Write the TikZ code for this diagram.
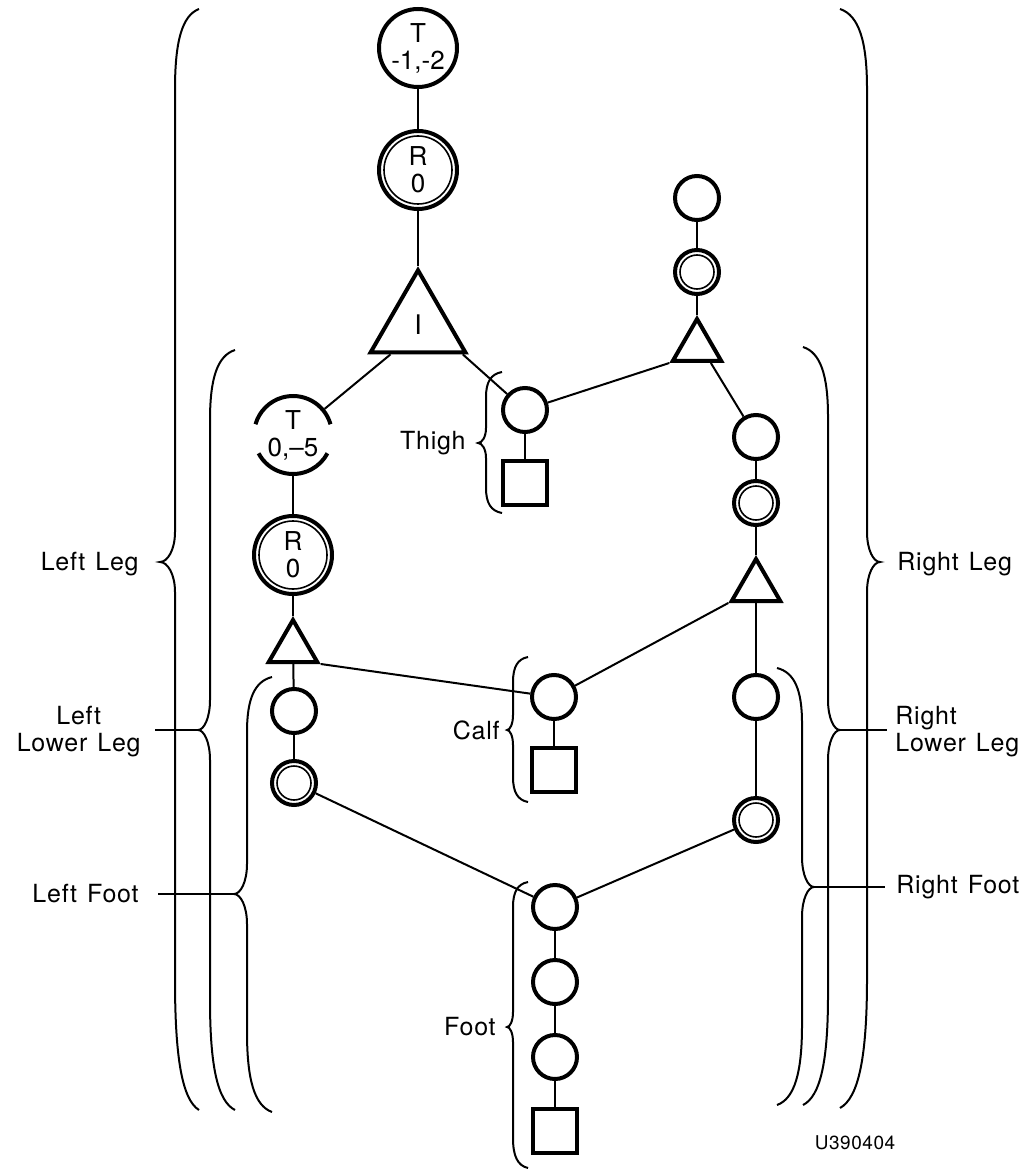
\documentclass[tikz,border=0pt]{standalone}
\usepackage{fontspec}
\setmainfont{TeX Gyre Heros}[LetterSpace=3,WordSpace=1.3]
\newfontfamily\circfont{TeX Gyre Heros}
\usetikzlibrary{shapes.geometric,calc}
% #1 x, #2 top, #3 bottom, #4 tip y, #5 end offset, #6 tip depth, #7 top curve length, #8 bottom curve length, #9 tip ramp
\newcommand{\mybrace}[9]{%
 \draw[brace] ({#1+(#5)},#2) .. controls ({#1+0.3*(#5)},{#2+0.08*(#7)}) and (#1,{#2+0.4*(#7)}) .. (#1,{#2+(#7)})
 -- (#1,{#4-(#9)}) .. controls (#1,{#4-0.4*(#9)}) and ({#1-0.5*(#6)},#4) .. ({#1-(#6)},#4)
 .. controls ({#1-0.5*(#6)},#4) and (#1,{#4+0.4*(#9)}) .. (#1,{#4+(#9)})
 -- (#1,{#3-(#8)}) .. controls (#1,{#3-0.4*(#8)}) and ({#1+0.3*(#5)},{#3-0.08*(#8)}) .. ({#1+(#5)},#3);}
\begin{document}
\begin{tikzpicture}[x=0.5pt,y=-0.5pt,
  shp/.style={draw,line width=2pt,inner sep=0pt},
  bigc/.style={shp,circle,minimum size=39pt,font=\circfont\fontsize{13}{13.5}\selectfont,align=center},
  smc/.style={shp,circle,minimum size=22pt},
  dsmc/.style={smc,path picture={\draw[line width=0.8pt] (path picture bounding box.center) circle (8.5pt);}},
  dbigc/.style={bigc,path picture={\draw[line width=0.8pt] (path picture bounding box.center) circle (17pt);}},
  sq/.style={shp,rectangle,minimum size=22pt},
  tri/.style={shp,regular polygon,regular polygon sides=3,font=\circfont\fontsize{13.5}{13.5}\selectfont},
  conn/.style={line width=1pt},
  brace/.style={line width=1pt},
  lbl/.style={inner sep=0pt,font=\fontsize{12.5}{13.5}\selectfont}
]
\fill[white] (0,0) rectangle (1030,1170);
\useasboundingbox (0,0) rectangle (1030,1170);

% main chain
\node[bigc] (T1) at (418,48) {T\\-1,-2};
\node[dbigc] (R1) at (418,170) {R\\0};
\node[tri,minimum size=54.7pt] (TI) at (418,325) {I};

% left leg chain
\node[bigc,draw=none] (T2) at (293,435) {T\\0,–5};
\draw[line width=2pt] ([shift={(16:19.5pt)}]T2.center) arc[start angle=16,end angle=164,radius=19.5pt];
\draw[line width=2pt] ([shift={(208:19.5pt)}]T2.center) arc[start angle=208,end angle=332,radius=19.5pt];
\node[dbigc] (R2) at (293,555) {R\\0};
\node[tri,minimum size=28pt] (LT) at (293,648) {};
\node[smc] (LC) at (294,711) {};
\node[dsmc] (LD) at (294,783) {};

% thigh
\node[smc] (TC) at (525,410) {};
\node[sq] (TS) at (525,483) {};
% calf
\node[smc] (CC) at (554,697) {};
\node[sq] (CS) at (554,770) {};
% foot
\node[smc] (F1) at (555,907) {};
\node[smc] (F2) at (555,982) {};
\node[smc] (F3) at (555,1057) {};
\node[sq] (FS) at (555,1131) {};

% right top
\node[smc] (RTC) at (697,198) {};
\node[dsmc] (RTD) at (697,272) {};
\node[tri,minimum size=28pt] (RTT) at (697,347) {};
% right leg chain
\node[smc] (RC1) at (756,437) {};
\node[dsmc] (RD1) at (756,503) {};
\node[tri,minimum size=28pt] (RT2) at (756,587) {};
\node[smc] (RC2) at (756,697) {};
\node[dsmc] (RD2) at (756,820) {};

% connectors
\draw[conn] (T1) -- (R1);
\draw[conn] (R1) -- (TI.corner 1);
\draw[conn] ($(TI.corner 2)!0.23!(TI.corner 3)$) -- (T2);
\draw[conn] ($(TI.corner 2)!0.94!(TI.corner 3)$) -- (TC);
\draw[conn] (TC) -- (TS);
\draw[conn] (TC) -- (RTT.corner 2);
\draw[conn] (RTC) -- (RTD);
\draw[conn] (RTD) -- (RTT.corner 1);
\draw[conn] ($(RTT.corner 2)!0.75!(RTT.corner 3)$) -- (RC1);
\draw[conn] (RC1) -- (RD1);
\draw[conn] (RD1) -- (RT2.corner 1);
\draw[conn] (RT2) -- (RC2);
\draw[conn] (RC2) -- (RD2);
\draw[conn] (RT2.corner 2) -- (CC);
\draw[conn] (CC) -- (CS);
\draw[conn] (T2) -- (R2);
\draw[conn] (R2) -- (LT.corner 1);
\draw[conn] (LT) -- (LC);
\draw[conn] (LC) -- (LD);
\draw[conn] (LT.corner 3) -- (CC);
\draw[conn] (LD) -- (F1);
\draw[conn] (RD2) -- (F1);
\draw[conn] (F1) -- (F2);
\draw[conn] (F2) -- (F3);
\draw[conn] (F3) -- (FS);

% braces left
\mybrace{175}{9}{1110}{562}{24}{15}{80}{130}{30}
\mybrace{210}{350}{1110}{730}{25}{12}{70}{110}{30}
\mybrace{247}{677}{1112}{894}{25}{13}{55}{80}{30}
% braces right
\mybrace{867}{9}{1108}{562}{-27}{-13}{80}{130}{30}
\mybrace{828}{347}{1105}{730}{-25}{-12}{70}{110}{30}
\mybrace{802}{668}{1105}{887}{-25}{-12}{55}{80}{30}
% small braces
\mybrace{486}{372}{513}{443}{16}{8}{25}{25}{15}
\mybrace{513}{657}{802}{730}{15}{6}{25}{25}{15}
\mybrace{513}{882}{1168}{1027}{15}{6}{25}{30}{15}

% label lines
\coordinate (tLL) at (198,730); \coordinate (eLL) at (155,730);
\coordinate (tLF) at (234,894); \coordinate (eLF) at (158,894);
\coordinate (tRL) at (840,730); \coordinate (eRL) at (887,730);
\coordinate (tRF) at (814,887); \coordinate (eRF) at (885,887);
\draw[brace] (eLL) -- (tLL);
\draw[brace] (eLF) -- (tLF);
\draw[brace] (tRL) -- (eRL);
\draw[brace] (tRF) -- (eRF);

% labels
\node[lbl,anchor=east] (LLeg) at (139,564) {Left Leg};
\node[lbl,anchor=east,align=center] (LLow) at (141,732) {Left\\Lower Leg};
\node[lbl,anchor=east] (LFoot) at (139,894) {Left Foot};
\node[lbl,anchor=west] (RLeg) at (897,564) {Right Leg};
\node[lbl,anchor=west,align=left] (RLow) at (895,732) {Right\\Lower Leg};
\node[lbl,anchor=west] (RFoot) at (896,887) {Right Foot};
\node[lbl,anchor=east] (Thigh) at (466,443) {Thigh};
\node[lbl,anchor=east] (Calf) at (500,730) {Calf};
\node[lbl,anchor=east] (Foot) at (496,1027) {Foot};
\node[inner sep=0pt,font=\fontsize{9.5}{10}\selectfont] (code) at (855,1143) {U390404};
\end{tikzpicture}
\end{document}
